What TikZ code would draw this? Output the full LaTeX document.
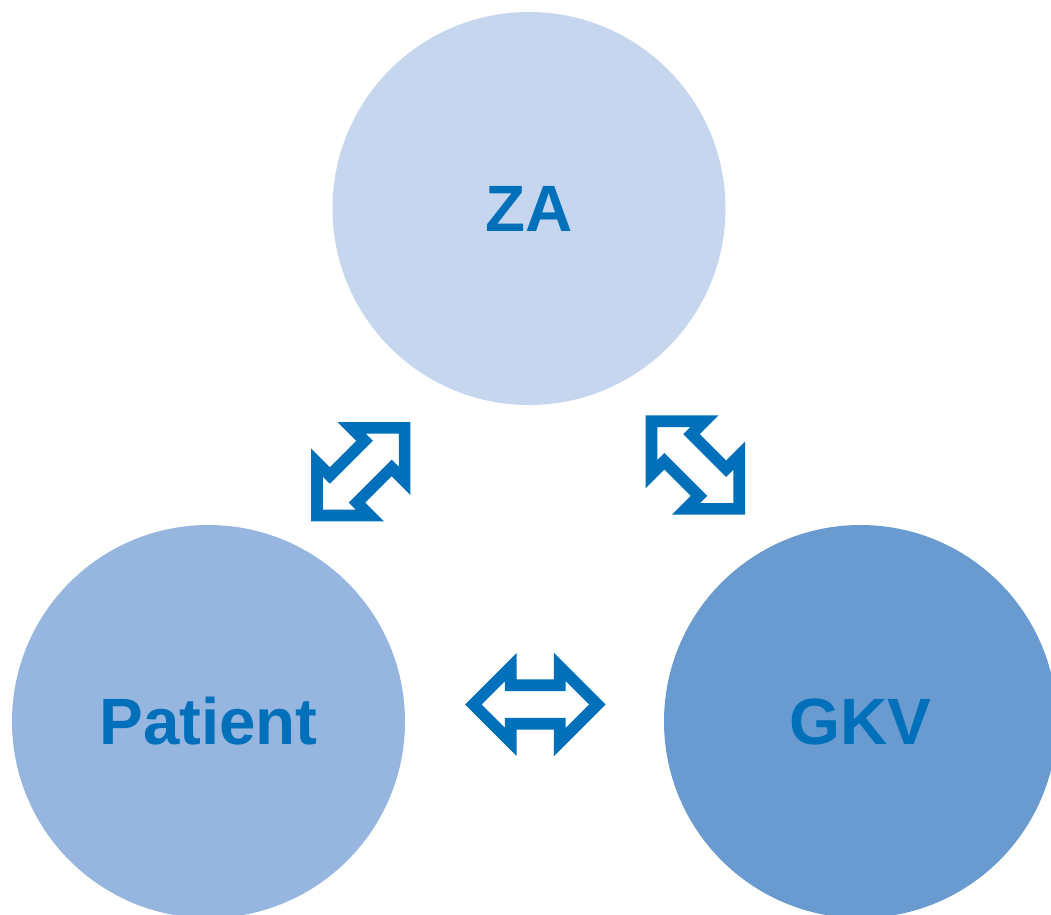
\documentclass[tikz,border=0pt]{standalone}
\usepackage{fontspec}
\setmainfont{Liberation Sans}
\definecolor{zablue}{HTML}{C5D6EE}
\definecolor{patblue}{HTML}{96B6E0}
\definecolor{gkvblue}{HTML}{699BD1}
\definecolor{inkblue}{HTML}{0070BA}
\tikzset{
  party/.style={circle, inner sep=0pt, minimum size=393pt, text=inkblue,
    font=\fontsize{65.5}{66}\selectfont\bfseries},
  % outlined double-headed arrow, drawn horizontally around its centre
  dblarrow/.pic={
    \draw[line width=11.7pt, draw=inkblue, fill=white, line join=miter, miter limit=10]
      (-62,0) -- (-24.5,37.5) -- (-24.5,19.2) -- (24.5,19.2) -- (24.5,37.5) -- (62,0)
      -- (24.5,-37.5) -- (24.5,-19.2) -- (-24.5,-19.2) -- (-24.5,-37.5) -- cycle;
  }
}
\begin{document}
\begin{tikzpicture}[x=1pt,y=-1pt]
\useasboundingbox (0,0) rectangle (1051,914);
\clip (0,0) rectangle (1051,914);

% the three parties
\node[party, fill=zablue]  (za)  at (529,208.5)   {ZA};
\node[party, fill=patblue] (pat) at (208.5,721.5) {Patient};
\node[party, fill=gkvblue] (gkv) at (860.5,721.5) {GKV};

% positions of the exchange arrows
\coordinate (za-pat)  at (360.8,471.7);
\coordinate (za-gkv)  at (695.3,465);
\coordinate (pat-gkv) at (535.3,704.5);

\pic[rotate=45]  at (za-pat)  {dblarrow};
\pic[rotate=-45] at (za-gkv)  {dblarrow};
\pic             at (pat-gkv) {dblarrow};
\end{tikzpicture}
\end{document}
